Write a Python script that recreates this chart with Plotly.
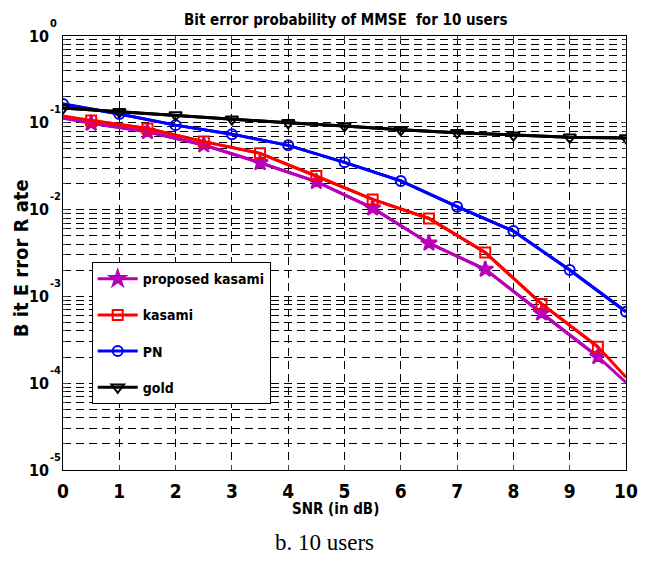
import plotly.graph_objects as go

# ---- data ----
snr_int = [0, 1, 2, 3, 4, 5, 6, 7, 8, 9, 10]
snr_half = [0.5, 1.5, 2.5, 3.5, 4.5, 5.5, 6.5, 7.5, 8.5, 9.5]
snr_ends = [0, 10]

gold = [0.148, 0.134, 0.123, 0.110, 0.100, 0.092, 0.083, 0.077, 0.072, 0.068, 0.067]
pn = [0.165, 0.126, 0.094, 0.074, 0.055, 0.035, 0.0214, 0.0108, 0.00566, 0.00201, 0.000667]
kasami_half = [0.106, 0.086, 0.0607, 0.0445, 0.0244, 0.0131, 0.0079, 0.0032, 0.00082, 0.000263]
kasami_ends = [0.120, 0.000117]
prop_half = [0.0986, 0.079, 0.0555, 0.0347, 0.021, 0.0104, 0.0041, 0.00205, 0.00064, 0.000202]
prop_ends = [0.113, 0.000102]

ytick_exps = [-5, -4, -3, -2, -1, 0]
ytick_base = "10"
xtick_vals = snr_int

MAG = "#b800b8"
FONT = "DejaVu Sans Condensed, Liberation Sans Narrow, Arial Narrow, sans-serif"
DASH = "8px,5px"

fig = go.Figure()

def add_series(name, xs_full, ys_full, xs_m, ys_m, color, symbol, msize, group):
    fig.add_trace(go.Scatter(x=xs_full, y=ys_full, mode="lines", line=dict(color=color, width=3),
                             showlegend=False, legendgroup=group, hoverinfo="skip"))
    marker = dict(symbol=symbol, size=msize, color=color, line=dict(color=color, width=2))
    fig.add_trace(go.Scatter(x=xs_m, y=ys_m, mode="lines+markers", name=name,
                             line=dict(color=color, width=3), marker=marker, legendgroup=group))

full_k_x = [snr_ends[0]] + snr_half + [snr_ends[1]]
full_k_y = [kasami_ends[0]] + kasami_half + [kasami_ends[1]]
full_p_y = [prop_ends[0]] + prop_half + [prop_ends[1]]

add_series("proposed kasami", full_k_x, full_p_y, snr_half, prop_half, MAG, "star", 12, "g1")
add_series("kasami", full_k_x, full_k_y, snr_half, kasami_half, "#ff0000", "square-open", 10, "g2")
add_series("PN", snr_int, pn, snr_int, pn, "#0000ff", "circle-open", 10, "g3")
add_series("gold", snr_int, gold, snr_int, gold, "#000000", "triangle-down-open", 11, "g4")

annotations = [
    dict(text="Bit error probability of MMSE  for 10 users", x=0.5, y=1, xref="paper", yref="paper",
         xshift=1, yshift=5, xanchor="center", yanchor="bottom", showarrow=False,
         font=dict(family=FONT, size=15, weight="bold")),
    dict(text="SNR (in dB)", x=0.484, y=0, xref="paper", yref="paper", yshift=-28,
         xanchor="center", yanchor="top", showarrow=False,
         font=dict(family=FONT, size=15, weight="bold")),
    dict(text="B it E rror R ate", x=0, y=0.488, xref="paper", yref="paper", xshift=-42,
         xanchor="center", yanchor="middle", textangle=-90, showarrow=False,
         font=dict(family=FONT, size=20, weight="bold")),
    dict(text="b. 10 users", x=0.465, y=0, xref="paper", yref="paper", yshift=-58,
         xanchor="center", yanchor="top", showarrow=False,
         font=dict(family="Liberation Serif, Times New Roman, serif", size=23)),
]
for e in ytick_exps:
    annotations.append(dict(text=ytick_base, x=0, y=e, xref="paper", yref="y", xshift=-12,
                            xanchor="right", yanchor="middle", showarrow=False,
                            font=dict(family=FONT, size=16, weight="bold")))
    annotations.append(dict(text=str(e), x=0, y=e, xref="paper", yref="y", xshift=-15, yshift=13,
                            xanchor="left", yanchor="middle", showarrow=False,
                            font=dict(family=FONT, size=11, weight="bold")))

fig.update_layout(
    width=650, height=565,
    margin=dict(l=63, r=22, t=36, b=95),
    paper_bgcolor="white", plot_bgcolor="white",
    font=dict(family=FONT, size=14, color="black"),
    showlegend=True,
    legend=dict(x=0.051, y=0.479, xanchor="left", yanchor="top",
                bordercolor="black", borderwidth=1, bgcolor="white",
                font=dict(family=FONT, size=14, color="black", weight="bold"),
                tracegroupgap=15, traceorder="grouped", itemwidth=40),
    xaxis=dict(range=[0, 10], tickvals=xtick_vals, ticks="inside", ticklen=5,
               showgrid=True, gridcolor="black", gridwidth=1, griddash=DASH,
               showline=True, linecolor="black", linewidth=1, mirror="ticks",
               zeroline=False, ticklabelstandoff=4,
               tickfont=dict(family=FONT, size=19, weight="bold")),
    yaxis=dict(type="log", range=[-5, 0], tickvals=[10.0 ** e for e in ytick_exps],
               showticklabels=False,
               ticks="inside", ticklen=5,
               showgrid=True, gridcolor="black", gridwidth=1, griddash=DASH,
               minor=dict(showgrid=True, gridcolor="black", gridwidth=1, griddash=DASH,
                          ticks="inside", ticklen=3, dtick="D1"),
               showline=True, linecolor="black", linewidth=1, mirror="ticks",
               zeroline=False),
    annotations=annotations,
)

fig.write_html("out.html")
